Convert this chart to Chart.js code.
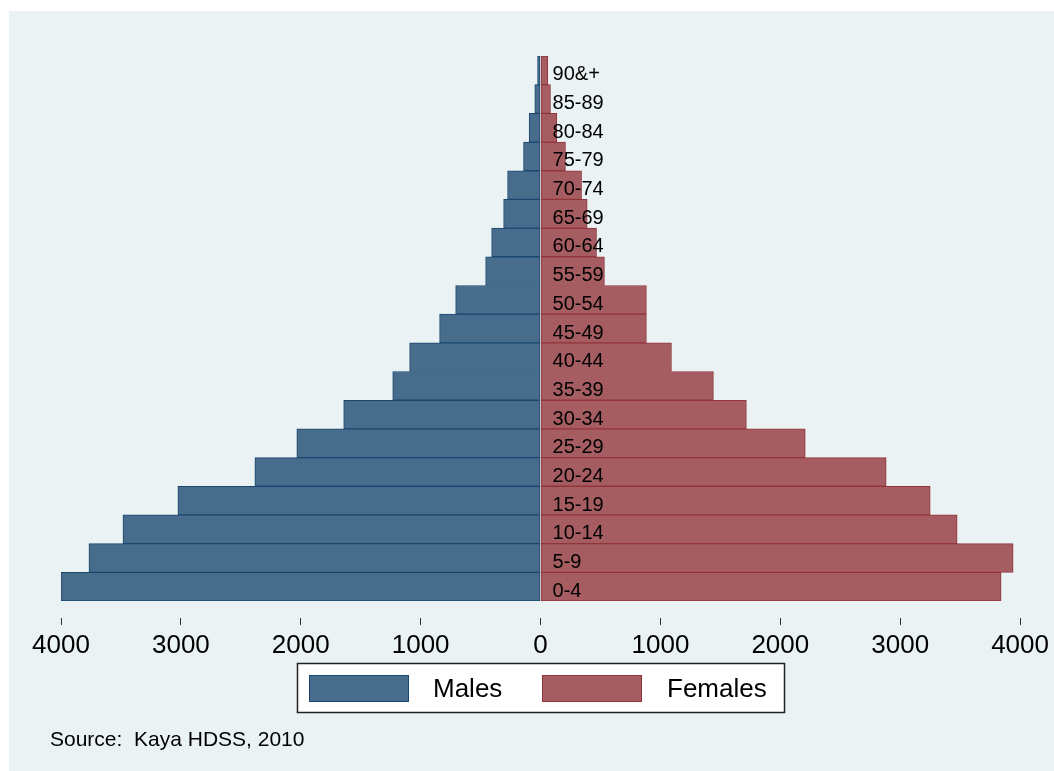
<!DOCTYPE html>
<html>
<head>
<meta charset="utf-8">
<script src="https://cdn.jsdelivr.net/npm/chart.js@4"></script>
<style>
  html, body { margin: 0; padding: 0; background: #ffffff; }
  #wrap { position: relative; width: 1054px; height: 771px; overflow: hidden; }
  #bg { position: absolute; left: 9px; top: 11px; right: 0; bottom: 0; background: #eaf2f3; }
  #chart-canvas { position: absolute; left: 0; top: 0; }
</style>
</head>
<body>
<div id="wrap">
  <div id="bg"></div>
  <canvas id="chart-canvas" width="1054" height="771"></canvas>
</div>
<script>
const ageGroups = ["0-4", "5-9", "10-14", "15-19", "20-24", "25-29", "30-34", "35-39", "40-44",
  "45-49", "50-54", "55-59", "60-64", "65-69", "70-74", "75-79", "80-84", "85-89", "90&+"];
const males = [4000, 3767, 3483, 3025, 2383, 2033, 1642, 1233, 1092,
  842, 708, 458, 408, 308, 275, 142, 95, 48, 25];
const females = [3842, 3942, 3475, 3250, 2883, 2208, 1717, 1442, 1092,
  883, 883, 533, 467, 389, 342, 208, 136, 83, 61];
const xTicks = [-4000, -3000, -2000, -1000, 0, 1000, 2000, 3000, 4000];
const sourceNote = "Source:  Kaya HDSS, 2010";

const font = "'Liberation Sans', Arial, sans-serif";

// age group labels sit just right of the zero line
const ageLabels = {
  id: "ageLabels",
  afterDatasetsDraw(chart) {
    const { ctx, scales } = chart;
    const x0 = scales.x.getPixelForValue(0) + 12;
    ctx.save();
    ctx.font = "20px " + font;
    ctx.fillStyle = "#000";
    ctx.textBaseline = "alphabetic";
    ageGroups.forEach((g, i) => {
      ctx.fillText(g, x0, scales.y.getPixelForValue(i) + 10);
    });
    ctx.restore();
  }
};

// boxed legend and source note like the original
const boxLegend = {
  id: "boxLegend",
  afterDraw(chart) {
    const ctx = chart.ctx;
    ctx.save();
    ctx.fillStyle = "#fff";
    ctx.fillRect(297, 663, 488, 50);
    ctx.strokeStyle = "#222";
    ctx.lineWidth = 1.5;
    ctx.strokeRect(297.5, 663.5, 487, 49);

    const items = [
      { ds: chart.data.datasets[0], sx: 309, tx: 433 },
      { ds: chart.data.datasets[1], sx: 542, tx: 667 }
    ];
    ctx.font = "26px " + font;
    ctx.textBaseline = "middle";
    items.forEach(it => {
      ctx.fillStyle = it.ds.backgroundColor;
      ctx.fillRect(it.sx, 675, 100, 27);
      ctx.strokeStyle = it.ds.borderColor;
      ctx.lineWidth = 1;
      ctx.strokeRect(it.sx + 0.5, 675.5, 99, 26);
      ctx.fillStyle = "#000";
      ctx.fillText(it.ds.label, it.tx, 690);
    });

    ctx.font = "21px " + font;
    ctx.textBaseline = "alphabetic";
    ctx.fillText(sourceNote, 50, 746);
    ctx.restore();
  }
};

const data = {
  labels: ageGroups,
  datasets: [
    {
      label: "Males",
      data: males.map(v => -v),
      backgroundColor: "rgb(72,108,140)",
      borderColor: "#1a476f",
      borderWidth: 1,
      borderSkipped: false,
      barPercentage: 1,
      categoryPercentage: 1
    },
    {
      label: "Females",
      data: females,
      backgroundColor: "rgb(166,93,98)",
      borderColor: "#90353b",
      borderWidth: 1,
      borderSkipped: false,
      barPercentage: 1,
      categoryPercentage: 1
    }
  ]
};

const config = {
  type: "bar",
  data: data,
  options: {
    indexAxis: "y",
    responsive: false,
    animation: false,
    layout: { padding: { left: 61, right: 33, top: 56, bottom: 0 } },
    plugins: {
      legend: { display: false },
      tooltip: { enabled: false }
    },
    scales: {
      x: {
        stacked: true,
        min: -4000,
        max: 4000,
        afterBuildTicks: scale => {
          scale.ticks = xTicks.map(v => ({ value: v }));
        },
        afterFit: scale => {
          scale.height = 170;
        },
        border: { display: false },
        grid: {
          drawOnChartArea: false,
          drawTicks: true,
          tickLength: 24,
          tickBorderDash: [0, 17, 7, 1000],
          tickColor: "#333",
          tickWidth: 1
        },
        ticks: {
          color: "#000",
          padding: 5,
          maxRotation: 0,
          font: { family: font, size: 26 },
          callback: v => Math.abs(v)
        }
      },
      y: {
        stacked: true,
        reverse: true,
        display: false
      }
    }
  },
  plugins: [ageLabels, boxLegend]
};

const myChart = new Chart(document.getElementById("chart-canvas"), config);
</script>
</body>
</html>
